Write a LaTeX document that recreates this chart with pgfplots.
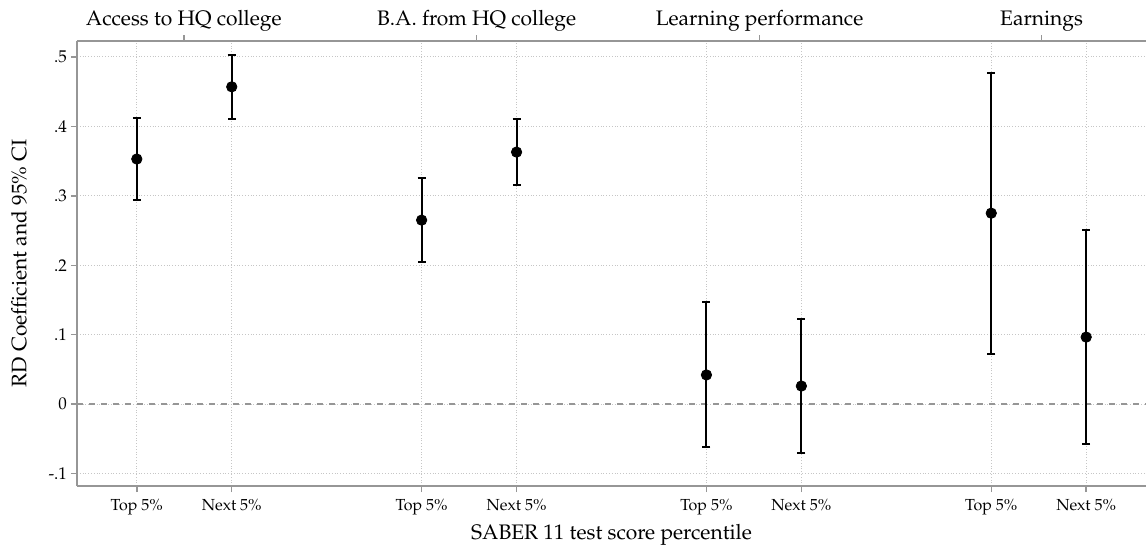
\documentclass[border=0pt]{standalone}
\usepackage[T1]{fontenc}
\usepackage{mathpazo}
\usepackage{pgfplots}
\pgfplotsset{compat=1.18}
\pgfplotstableread{
x y e
1 0.353 0.059
2 0.457 0.046
4 0.265 0.0605
5 0.363 0.0475
7 0.042 0.1045
8 0.026 0.097
10 0.275 0.2025
11 0.0965 0.1545
}\datatable
\definecolor{axisgray}{RGB}{150,150,150}
\begin{document}
\begin{tikzpicture}
\begin{axis}[
  name=main,
  scale only axis, width=534.5pt, height=222.5pt,
  xmin=0.37, xmax=11.63, ymin=-0.118, ymax=0.523,
  axis x line*=bottom, axis y line*=left,
  axis line style={-, draw=axisgray, line width=0.7pt},
  xtick={1,2,4,5,7,8,10,11},
  xticklabels={Top 5\%,Next 5\%,Top 5\%,Next 5\%,Top 5\%,Next 5\%,Top 5\%,Next 5\%},
  ytick={-0.1,0,0.1,0.2,0.3,0.4,0.5},
  yticklabels={-.1,0,.1,.2,.3,.4,.5},
  tick style={draw=axisgray, line width=0.7pt},
  tick align=outside, major tick length=3pt,
  grid=major, grid style={densely dotted, gray!45, line width=0.5pt},
  xticklabel style={font=\fontsize{8}{9}\selectfont},
  yticklabel style={font=\fontsize{8.5}{9}\selectfont, xshift=1.5pt},
  xlabel={SABER 11 test score percentile},
  ylabel={RD Coefficient and 95\% CI},
  label style={font=\fontsize{10.5}{12}\selectfont},
  xlabel style={yshift=2pt},
  ylabel style={yshift=4pt},
  clip=false,
]
\addplot[dashed, axisgray, line width=0.6pt, forget plot] coordinates {(0.37,0) (11.63,0)};
\addplot[only marks, mark=*, mark size=2.6pt, black,
  error bars/.cd, y dir=both, y explicit,
  error bar style={line width=1pt, black},
  error mark options={rotate=90, mark size=2pt, line width=1pt, black}]
  table[x=x, y=y, y error=e] {\datatable};
\coordinate (O) at (rel axis cs:0,0);
\end{axis}
\begin{axis}[
  scale only axis, width=534.5pt, height=222.5pt,
  xmin=0.37, xmax=11.63, ymin=-0.118, ymax=0.523,
  axis x line*=top, axis y line=none,
  axis line style={-, draw=axisgray, line width=0.7pt},
  xtick={1.495,4.58,7.56,10.53},
  xticklabels={Access to HQ college,B.A. from HQ college,Learning performance,Earnings},
  xticklabel style={font=\fontsize{10.5}{12}\selectfont, yshift=-1.5pt},
  tick style={draw=axisgray, line width=0.7pt},
  tick align=outside, major tick length=3pt,
]
\end{axis}
\pgfresetboundingbox
\path (O) ++(-38.5pt,-31pt) rectangle ++(573pt,274pt);
\end{tikzpicture}
\end{document}
